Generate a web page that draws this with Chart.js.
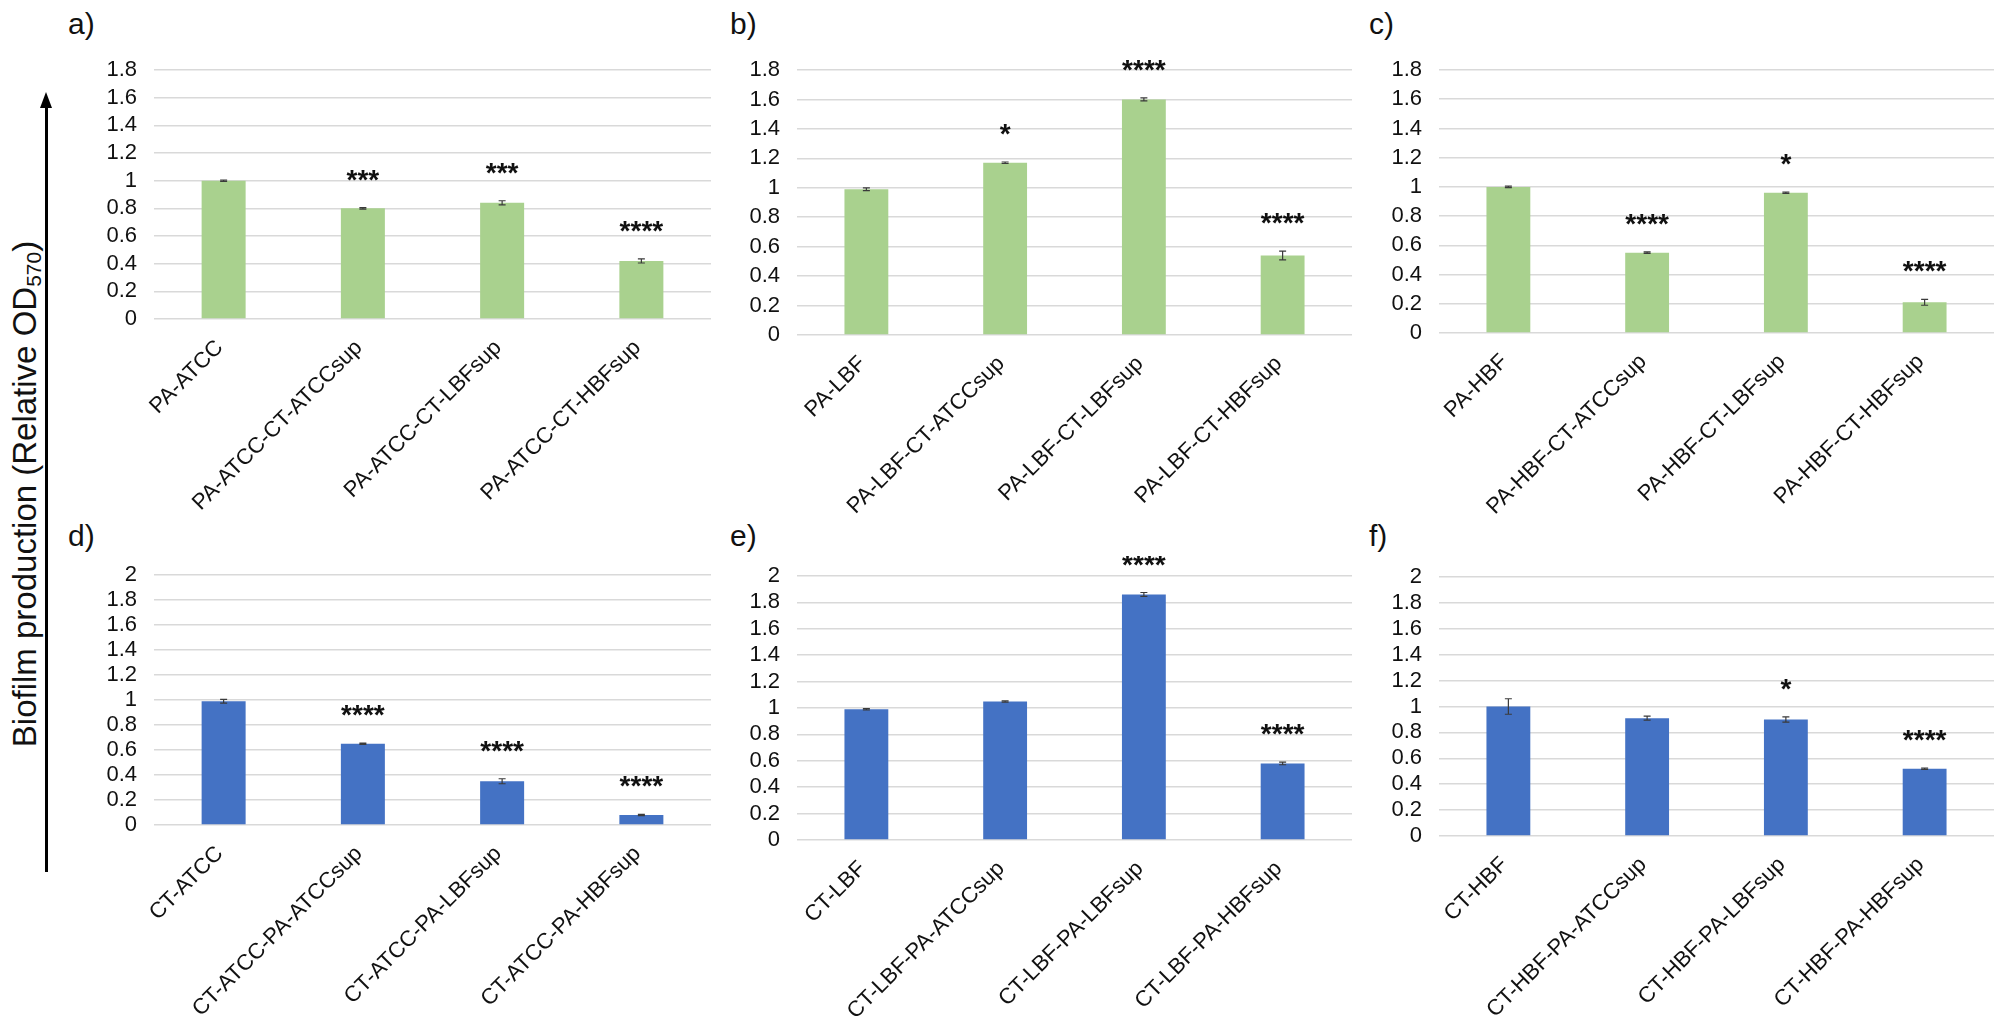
<!DOCTYPE html>
<html>
<head>
<meta charset="utf-8">
<script src="https://cdn.jsdelivr.net/npm/chart.js@4.4.1/dist/chart.umd.min.js"></script>
<style>
body { margin: 0; width: 2008px; height: 1016px; overflow: hidden; background: #fff;
       font-family: "Liberation Sans", Arial, sans-serif; color: #111; }
canvas { position: absolute; }
.tag { position: absolute; font-size: 30px; line-height: 30px; }
#ytitle { position: absolute; left: 26px; top: 494px; font-size: 33px; white-space: nowrap;
          transform: translate(-50%, -50%) rotate(-90deg); }
#ytitle sub { font-size: 21px; vertical-align: -5px; }
#arrow { position: absolute; left: 45px; top: 104px; width: 3px; height: 768px; background: #000; }
#arrowhead { position: absolute; left: 40px; top: 92px; width: 0; height: 0;
             border-left: 6.5px solid transparent; border-right: 6.5px solid transparent;
             border-bottom: 16px solid #000; }
</style>
</head>
<body>
<div id="ytitle">Biofilm production (Relative OD<sub>570</sub>)</div>
<div id="arrow"></div><div id="arrowhead"></div>

<div class="tag" style="left:68px;top:9px">a)</div>
<div class="tag" style="left:730px;top:9px">b)</div>
<div class="tag" style="left:1369px;top:9px">c)</div>
<div class="tag" style="left:68px;top:521px">d)</div>
<div class="tag" style="left:730px;top:521px">e)</div>
<div class="tag" style="left:1369px;top:521px">f)</div>

<canvas id="pa"></canvas>
<canvas id="pb"></canvas>
<canvas id="pc"></canvas>
<canvas id="pd"></canvas>
<canvas id="pe"></canvas>
<canvas id="pf"></canvas>

<script>
// a) PA-ATCC
const labelsA = ['PA-ATCC', 'PA-ATCC-CT-ATCCsup', 'PA-ATCC-CT-LBFsup', 'PA-ATCC-CT-HBFsup'];
const valuesA = [1.00, 0.80, 0.84, 0.42];
const errA = [0.005, 0.005, 0.015, 0.015];
const starsA = ['', '***', '***', '****'];

// b) PA-LBF
const labelsB = ['PA-LBF', 'PA-LBF-CT-ATCCsup', 'PA-LBF-CT-LBFsup', 'PA-LBF-CT-HBFsup'];
const valuesB = [0.99, 1.17, 1.60, 0.54];
const errB = [0.01, 0.005, 0.01, 0.03];
const starsB = ['', '*', '****', '****'];

// c) PA-HBF
const labelsC = ['PA-HBF', 'PA-HBF-CT-ATCCsup', 'PA-HBF-CT-LBFsup', 'PA-HBF-CT-HBFsup'];
const valuesC = [1.00, 0.55, 0.96, 0.21];
const errC = [0.005, 0.005, 0.005, 0.02];
const starsC = ['', '****', '*', '****'];

// d) CT-ATCC
const labelsD = ['CT-ATCC', 'CT-ATCC-PA-ATCCsup', 'CT-ATCC-PA-LBFsup', 'CT-ATCC-PA-HBFsup'];
const valuesD = [0.99, 0.65, 0.35, 0.08];
const errD = [0.015, 0.005, 0.02, 0.005];
const starsD = ['', '****', '****', '****'];

// e) CT-LBF
const labelsE = ['CT-LBF', 'CT-LBF-PA-ATCCsup', 'CT-LBF-PA-LBFsup', 'CT-LBF-PA-HBFsup'];
const valuesE = [0.99, 1.05, 1.86, 0.58];
const errE = [0.005, 0.005, 0.015, 0.01];
const starsE = ['', '', '****', '****'];

// f) CT-HBF
const labelsF = ['CT-HBF', 'CT-HBF-PA-ATCCsup', 'CT-HBF-PA-LBFsup', 'CT-HBF-PA-HBFsup'];
const valuesF = [1.00, 0.91, 0.90, 0.52];
const errF = [0.06, 0.015, 0.02, 0.005];
const starsF = ['', '', '*', '****'];

const GREEN = '#a9d18e';
const BLUE = '#4472c4';
const FONT = '"Liberation Sans", Arial, sans-serif';

const YW = 80;   // y axis width
const PT = 20;   // top padding
const PR = 8;    // right padding
const XH = 240;  // room for the slanted labels

// error bars and significance stars
const extras = {
    id: 'extras',
    afterDatasetsDraw(chart) {
        const ctx = chart.ctx;
        const y = chart.scales.y;
        const meta = chart.getDatasetMeta(0);
        const ds = chart.data.datasets[0];
        ctx.save();
        meta.data.forEach((bar, i) => {
            const v = ds.data[i], e = ds.errs[i];
            const top = y.getPixelForValue(v + e);
            const bot = y.getPixelForValue(v - e);
            ctx.strokeStyle = '#3a3a3a';
            ctx.lineWidth = 1.2;
            ctx.beginPath();
            ctx.moveTo(bar.x, top); ctx.lineTo(bar.x, bot);
            ctx.moveTo(bar.x - 3.5, top); ctx.lineTo(bar.x + 3.5, top);
            ctx.moveTo(bar.x - 3.5, bot); ctx.lineTo(bar.x + 3.5, bot);
            ctx.stroke();
            if (ds.stars[i]) {
                ctx.fillStyle = '#111';
                ctx.font = 'bold 28px ' + FONT;
                ctx.textAlign = 'center';
                ctx.textBaseline = 'alphabetic';
                ctx.fillText(ds.stars[i], bar.x, top - 19);
            }
        });
        ctx.restore();
    }
};

function panel(id, box, labels, values, errs, stars, color, yMax) {
    const canvas = document.getElementById(id);
    const w = YW + (box.r - box.l) + PR;
    const h = PT + (box.b - box.t) + XH;
    canvas.width = w; canvas.height = h;
    canvas.style.left = (box.l - YW) + 'px';
    canvas.style.top = (box.t - PT) + 'px';
    canvas.style.width = w + 'px';
    canvas.style.height = h + 'px';

    const data = {
        labels: labels,
        datasets: [{
            data: values,
            errs: errs,
            stars: stars,
            backgroundColor: color,
            borderWidth: 0,
            categoryPercentage: 1,
            barPercentage: 0.316
        }]
    };
    const config = {
        type: 'bar',
        data: data,
        options: {
            responsive: false,
            animation: false,
            devicePixelRatio: 1,
            layout: { padding: { top: PT, right: PR, left: 0, bottom: 0 } },
            plugins: { legend: { display: false }, tooltip: { enabled: false } },
            scales: {
                x: {
                    grid: { display: false },
                    border: { display: false },
                    ticks: {
                        autoSkip: false, minRotation: 45, maxRotation: 45,
                        padding: 8, labelOffset: -4,
                        color: '#111', font: { family: FONT, size: 22 }
                    },
                    afterFit(scale) {
                        scale.height = XH;
                        scale.paddingLeft = 0; scale.paddingRight = 0;
                    }
                },
                y: {
                    min: 0, max: yMax,
                    grid: { color: '#d9d9d9', lineWidth: 1.5, drawTicks: false },
                    border: { display: false },
                    ticks: {
                        stepSize: 0.2, autoSkip: false, padding: 17,
                        color: '#111', font: { family: FONT, size: 22 },
                        callback: (v) => String(Math.round(v * 10) / 10)
                    },
                    afterFit(scale) {
                        scale.width = YW;
                        scale.paddingTop = 0; scale.paddingBottom = 0;
                    }
                }
            }
        },
        plugins: [extras]
    };
    return new Chart(canvas, config);
}

panel('pa', {l: 154, t: 70, r: 711, b: 319}, labelsA, valuesA, errA, starsA, GREEN, 1.8);
panel('pb', {l: 797, t: 70, r: 1352, b: 335}, labelsB, valuesB, errB, starsB, GREEN, 1.8);
panel('pc', {l: 1439, t: 70, r: 1994, b: 333}, labelsC, valuesC, errC, starsC, GREEN, 1.8);
panel('pd', {l: 154, t: 575, r: 711, b: 825}, labelsD, valuesD, errD, starsD, BLUE, 2);
panel('pe', {l: 797, t: 576, r: 1352, b: 840}, labelsE, valuesE, errE, starsE, BLUE, 2);
panel('pf', {l: 1439, t: 577, r: 1994, b: 836}, labelsF, valuesF, errF, starsF, BLUE, 2);
</script>
</body>
</html>
